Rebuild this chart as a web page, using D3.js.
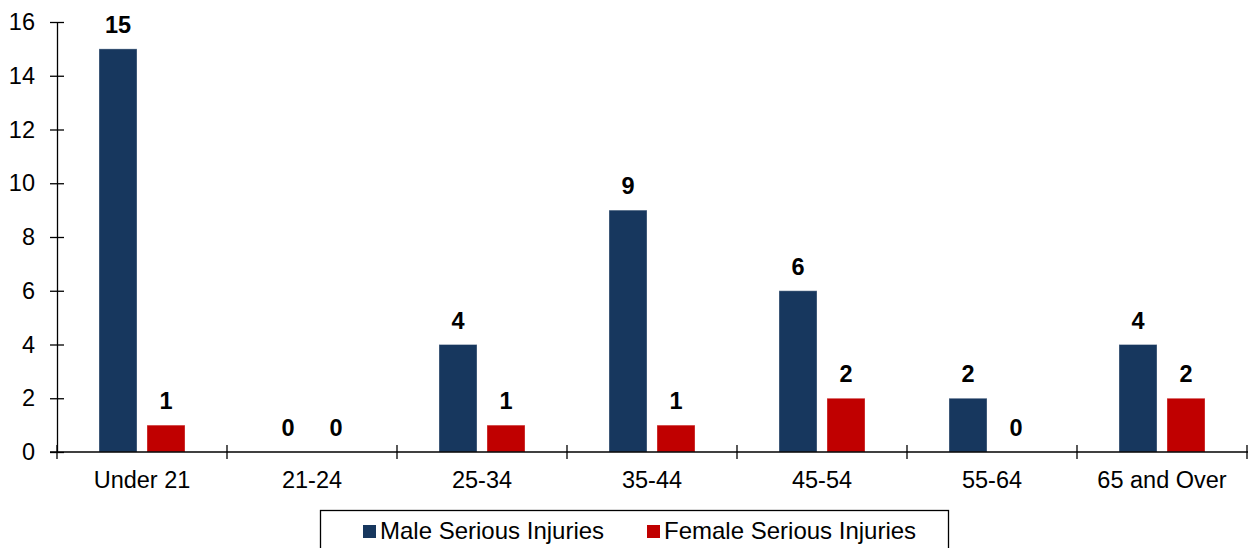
<!DOCTYPE html>
<html>
<head>
<meta charset="utf-8">
<script src="https://cdn.jsdelivr.net/npm/d3@7"></script>
<style>
  html, body { margin: 0; padding: 0; background: #fff; }
  svg { display: block; font-family: "Liberation Sans", Arial, sans-serif; }
</style>
</head>
<body>
<svg id="chart" width="1248" height="548"></svg>
<script>
// Serious injuries by age group and sex
const categories = ["Under 21", "21-24", "25-34", "35-44", "45-54", "55-64", "65 and Over"];
const maleValues = [15, 0, 4, 9, 6, 2, 4];
const femaleValues = [1, 0, 1, 1, 2, 0, 2];
const seriesNames = ["Male Serious Injuries", "Female Serious Injuries"];
const seriesColors = ["#17375e", "#c00000"];
const yTicks = [0, 2, 4, 6, 8, 10, 12, 14, 16];

const svg = d3.select("#chart");
const plotLeft = 57, plotRight = 1247, plotTop = 22, plotBottom = 452;
const fontSize = 23.5;

const x = d3.scaleBand().domain(categories).range([plotLeft, plotRight]).paddingInner(0).paddingOuter(0);
const inner = d3.scaleBand().domain(seriesNames).range([42, 128]).paddingInner(0.2083);
const y = d3.scaleLinear().domain([0, 16]).range([plotBottom, plotTop]);

const series = [maleValues, femaleValues];

// bars and value labels
series.forEach((vals, si) => {
  const rows = categories.map((c, i) => ({ c, v: vals[i] }));
  svg.append("g").selectAll("rect")
    .data(rows)
    .join("rect")
    .attr("x", d => x(d.c) + inner(seriesNames[si]))
    .attr("y", d => y(d.v))
    .attr("width", inner.bandwidth())
    .attr("height", d => y(0) - y(d.v))
    .attr("fill", seriesColors[si])
    .attr("stroke", d => d.v > 0 ? "rgba(255,255,255,0.35)" : "none")
    .attr("stroke-width", 1);

  svg.append("g").selectAll("text")
    .data(rows)
    .join("text")
    .attr("x", d => x(d.c) + inner(seriesNames[si]) + inner.bandwidth() / 2)
    .attr("y", d => y(d.v) - 16)
    .attr("text-anchor", "middle")
    .attr("font-size", fontSize)
    .attr("font-weight", "bold")
    .attr("fill", "#000")
    .text(d => d.v);
});

// y axis
const yAxis = d3.axisLeft(y).tickValues(yTicks).tickSize(0).tickPadding(22);
const yg = svg.append("g").attr("transform", `translate(${plotLeft},0)`).call(yAxis);
yg.select(".domain").attr("stroke", "#000").attr("stroke-width", 1.3);
yg.selectAll(".tick text").attr("font-size", fontSize).attr("fill", "#000")
  .attr("font-family", "Liberation Sans, Arial, sans-serif");
yg.selectAll(".tick").append("line")
  .attr("x1", -7).attr("x2", 7).attr("stroke", "#000").attr("stroke-width", 1.3);

// x axis
const xAxis = d3.axisBottom(x).tickSize(0).tickPadding(19);
const xg = svg.append("g").attr("transform", `translate(0,${plotBottom})`).call(xAxis);
xg.select(".domain").remove();
xg.append("line").attr("x1", plotLeft - 7).attr("x2", plotRight + 1).attr("stroke", "#000").attr("stroke-width", 1.3);
xg.selectAll(".tick text").attr("font-size", fontSize).attr("fill", "#000")
  .attr("font-family", "Liberation Sans, Arial, sans-serif");
// category boundary ticks
const boundaries = categories.map(c => x(c)).concat([plotRight]);
xg.append("g").selectAll("line").data(boundaries).join("line")
  .attr("x1", d => d).attr("x2", d => d)
  .attr("y1", -7).attr("y2", 7)
  .attr("stroke", "#000").attr("stroke-width", 1.3);

// legend
const lg = svg.append("g");
lg.append("rect").attr("x", 320.5).attr("y", 510.5).attr("width", 628).attr("height", 50)
  .attr("fill", "#fff").attr("stroke", "#000").attr("stroke-width", 1.3);
const legendX = [363, 647];
seriesNames.forEach((n, i) => {
  lg.append("rect").attr("x", legendX[i]).attr("y", 525).attr("width", 13).attr("height", 13)
    .attr("fill", seriesColors[i]);
  lg.append("text").attr("x", legendX[i] + 17).attr("y", 539)
    .attr("font-size", 24).attr("fill", "#000").text(n);
});
</script>
</body>
</html>
